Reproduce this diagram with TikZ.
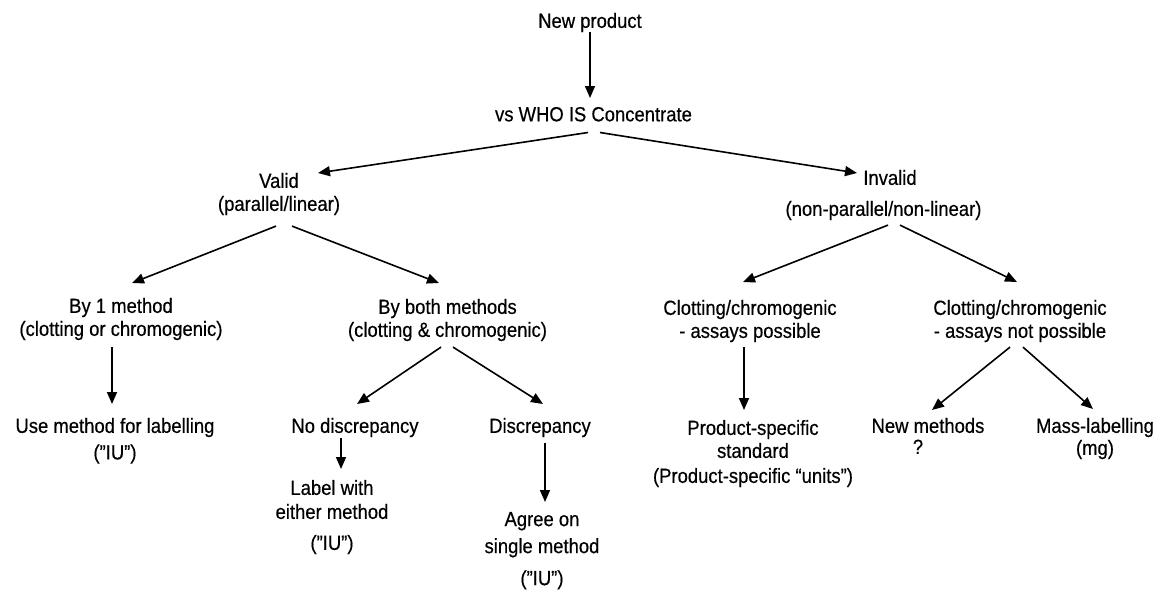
\documentclass[tikz,border=0pt]{standalone}
\usepackage{fontspec}
\setmainfont{Liberation Sans}[FakeStretch=0.9,FakeBold=0.4]
\usetikzlibrary{arrows.meta}
\begin{document}
\begin{tikzpicture}[x=1pt,y=-1pt,
  lbl/.style={inner sep=0pt, outer sep=0pt, align=center, anchor=north,
    font=\fontsize{20.5}{23}\selectfont},
  arr/.style={line width=1.6pt, -{Triangle[length=12pt,width=10pt]}}]
\useasboundingbox (0,0) rectangle (1163,590);

% nodes
\node[lbl] (newp)    at (590,13)    {New product};
\node[lbl] (vs)      at (593.5,107) {vs WHO IS Concentrate};
\node[lbl] (valid)   at (279,173)   {Valid\\(parallel/linear)};
\node[lbl] (invalid) at (883.5,170) {\hspace*{13pt}Invalid\\[8pt](non-parallel/non-linear)};
\node[lbl] (by1)     at (121,298)   {By 1 method\\(clotting or chromogenic)};
\node[lbl] (both)    at (447.5,299) {By both methods\\(clotting \& chromogenic)};
\node[lbl] (cposs)   at (750,300)   {Clotting/chromogenic\\- assays possible};
\node[lbl] (cnot)    at (1020,300)  {Clotting/chromogenic\\- assays not possible};
\node[lbl] (use)     at (115,418)   {Use method for labelling\\[3.5pt](”IU”)};
\node[lbl] (nodisc)  at (355,418)   {No discrepancy};
\node[lbl] (disc)    at (540,418)   {Discrepancy};
\node[lbl] (label)   at (332,480)   {Label with\\[1pt]either method\\[8pt](”IU”)};
\node[lbl] (agree)   at (542,512)   {Agree on\\[4pt]single method\\[9pt](”IU”)};
\node[lbl] (pspec)   at (753,420)   {Product-specific\\standard\\[2pt](Product-specific “units”)};
\node[lbl] (newm)    at (928,418)   {New methods\\[-2pt]?\hspace*{20pt}};
\node[lbl] (mass)    at (1095,418)  {Mass-labelling\\[-1pt](mg)};

% connectors
\draw[arr] (newp.south) -- ([shift={(-3.5,-9)}]vs.north);
\draw[arr] ([shift={(-5.5,11)}]vs.south) -- ([shift={(39,0)}]valid.north);
\draw[arr] ([shift={(6.5,11)}]vs.south) -- ([shift={(-26.5,3)}]invalid.north);
\draw[arr] ([shift={(-3,11)}]valid.south) -- ([shift={(11,-15)}]by1.north);
\draw[arr] ([shift={(13,11)}]valid.south) -- ([shift={(-8.5,-16)}]both.north);
\draw[arr] ([shift={(4.5,5)}]invalid.south) -- ([shift={(-7,-18)}]cposs.north);
\draw[arr] ([shift={(16.5,5)}]invalid.south) -- ([shift={(-3,-18)}]cnot.north);
\draw[arr] ([shift={(-9,7)}]by1.south) -- ([shift={(-3,-14)}]use.north);
\draw[arr] ([shift={(-6.5,6)}]both.south) -- ([shift={(2,-14)}]nodisc.north);
\draw[arr] ([shift={(5.5,6)}]both.south) -- ([shift={(3,-14)}]disc.north);
\draw[arr] ([shift={(-14,1)}]nodisc.south) -- ([shift={(9,-11)}]label.north);
\draw[arr] ([shift={(5,6)}]disc.south) -- ([shift={(3,-10)}]agree.north);
\draw[arr] ([shift={(-6,5)}]cposs.south) -- ([shift={(-9,-10)}]pspec.north);
\draw[arr] ([shift={(-10,5)}]cnot.south) -- ([shift={(4,-8)}]newm.north);
\draw[arr] ([shift={(3,5)}]cnot.south) -- ([shift={(-2,-9)}]mass.north);
\end{tikzpicture}
\end{document}
